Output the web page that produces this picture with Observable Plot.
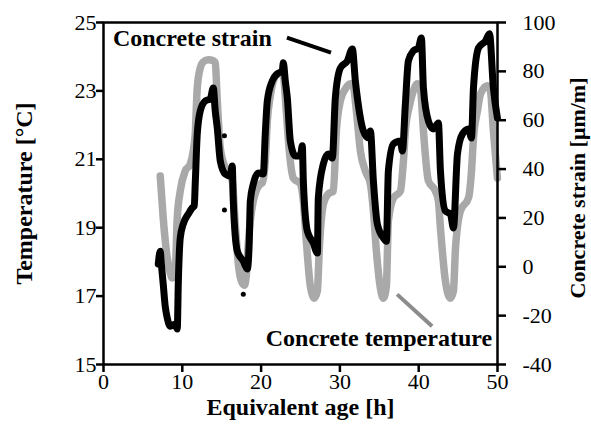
<!DOCTYPE html>
<html><head><meta charset="utf-8">
<script src="https://cdn.jsdelivr.net/npm/d3@7"></script>
<script src="https://cdn.jsdelivr.net/npm/@observablehq/plot@0.6"></script>
<style>body{margin:0;background:#fff}</style>
</head><body><div id="chart"></div>
<script>
// Concrete temperature (°C) vs equivalent age (h)
const tempHours = [7.20, 7.58, 8.09, 8.47, 8.72, 9.10, 9.36, 9.74, 10.37, 11.01, 11.39, 11.64, 11.90, 12.28, 12.66, 13.30, 13.93, 14.18, 14.44, 14.82, 15.45, 16.34, 16.72, 17.11, 17.49, 17.87, 18.12, 18.37, 19.01, 19.90, 20.15, 20.53, 20.79, 21.17, 21.55, 22.18, 22.82, 23.19, 23.58, 24.09, 24.98, 25.36, 25.74, 26.25, 26.75, 27.14, 27.39, 27.90, 28.53, 29.17, 29.55, 30.06, 30.69, 31.33, 31.71, 32.09, 32.60, 33.23, 33.87, 34.25, 34.63, 35.14, 35.52, 35.90, 36.15, 36.79, 37.68, 38.06, 38.31, 38.82, 39.20, 39.84, 40.22, 40.60, 41.23, 42.12, 42.50, 42.76, 43.39, 44.03, 44.41, 44.67, 45.30, 46.32, 46.70, 46.95, 47.46, 47.84, 48.72, 49.10, 49.48, 49.99];
const temperature = [20.51, 19.28, 18.11, 17.67, 17.53, 17.73, 19.28, 20.07, 20.66, 20.86, 21.24, 21.74, 23.09, 23.67, 23.85, 23.91, 23.88, 23.82, 22.71, 21.33, 20.75, 20.37, 19.11, 17.94, 17.44, 17.32, 17.59, 18.52, 19.78, 20.28, 20.31, 20.95, 22.12, 22.85, 23.29, 23.50, 23.44, 22.42, 21.24, 20.45, 20.28, 19.78, 18.61, 17.29, 16.94, 17.15, 18.40, 19.69, 19.99, 20.07, 21.83, 22.71, 23.06, 23.21, 23.12, 22.42, 21.24, 20.66, 20.28, 19.49, 18.32, 17.23, 16.94, 17.29, 19.19, 19.87, 20.07, 20.95, 21.83, 22.56, 22.91, 23.21, 23.06, 21.83, 20.37, 20.07, 19.78, 18.99, 17.44, 16.94, 17.15, 18.40, 19.49, 19.87, 20.66, 21.62, 22.42, 22.91, 23.15, 23.00, 21.83, 20.45];

// Concrete strain (µm/m) vs equivalent age (h)
const strainHours = [6.95, 7.20, 7.33, 7.58, 7.83, 8.09, 8.47, 9.10, 9.36, 9.49, 9.74, 10.12, 10.76, 11.26, 11.52, 11.64, 11.90, 12.28, 12.91, 13.55, 13.93, 14.18, 14.44, 14.82, 15.45, 16.08, 16.34, 16.47, 16.98, 17.74, 18.25, 18.50, 18.63, 19.01, 19.64, 20.28, 20.53, 20.79, 21.42, 22.06, 22.69, 22.82, 23.07, 23.33, 23.71, 24.34, 24.98, 25.23, 25.36, 25.87, 26.63, 27.14, 27.26, 27.90, 28.53, 29.04, 29.42, 30.06, 30.95, 31.58, 31.96, 32.22, 32.98, 33.61, 33.87, 34.25, 34.75, 35.52, 35.90, 36.15, 36.79, 37.68, 37.93, 38.31, 38.69, 39.33, 39.96, 40.34, 40.60, 41.23, 41.87, 42.50, 42.76, 43.39, 44.03, 44.41, 44.92, 45.56, 46.32, 46.70, 46.95, 47.59, 48.48, 48.98, 49.48, 49.99];
const strain = [1.1, 6.4, 1.5, -7.1, -16.1, -21.0, -24.3, -23.5, -25.5, -7.1, 11.8, 17.5, 21.6, 24.1, 24.9, 33.9, 54.4, 63.8, 67.9, 68.7, 73.2, 63.8, 56.8, 43.3, 38.0, 37.2, 41.3, 26.9, 6.4, 2.3, -0.9, 10.5, 26.9, 33.9, 38.4, 38.0, 54.4, 67.9, 76.1, 79.0, 80.2, 83.5, 76.1, 69.1, 51.5, 45.4, 45.4, 49.5, 35.1, 14.6, 9.7, 5.6, 28.2, 42.1, 46.2, 44.5, 69.1, 81.4, 84.3, 89.2, 76.1, 69.1, 55.6, 52.7, 55.6, 35.1, 17.5, 11.8, 10.5, 39.2, 50.3, 51.5, 47.4, 66.7, 84.3, 88.4, 89.6, 93.7, 73.2, 59.7, 56.4, 58.9, 39.2, 22.8, 21.6, 15.9, 46.2, 54.4, 56.4, 52.7, 73.2, 89.6, 92.5, 95.4, 73.2, 60.9];

// isolated strain readings
const strayHours = [15.35, 15.35, 17.74];
const strayStrain = [53.6, 23.2, -11.2];

const xTicks = [0, 10, 20, 30, 40, 50];
const tempTicks = [15, 17, 19, 21, 23, 25];
const strainTicks = [-40, -20, 0, 20, 40, 60, 80, 100];
const tempDomain = [15, 25];
const strainDomain = [-40, 100];

// map the strain axis onto the temperature axis (shared vertical extent)
const toTemp = s => tempDomain[0] + (s - strainDomain[0]) * (tempDomain[1] - tempDomain[0]) / (strainDomain[1] - strainDomain[0]);
const toStrain = t => strainDomain[0] + (t - tempDomain[0]) * (strainDomain[1] - strainDomain[0]) / (tempDomain[1] - tempDomain[0]);

const tempData = tempHours.map((h, i) => ({h, t: temperature[i]}));
const strainData = strainHours.map((h, i) => ({h, s: strain[i]}));
const strayData = strayHours.map((h, i) => ({h, s: strayStrain[i]}));

const serif = "'Liberation Serif', 'Times New Roman', serif";

const chart = Plot.plot({
  width: 591,
  height: 439,
  marginLeft: 103,
  marginRight: 94,
  marginTop: 22,
  marginBottom: 75,
  style: {fontFamily: serif, fontSize: "22px", color: "black", background: "white", overflow: "visible"},
  x: {domain: [0, 50]},
  y: {domain: tempDomain},
  marks: [
    Plot.line(tempData, {x: "h", y: "t", curve: "monotone-x", stroke: "#a9a9a9", strokeWidth: 7.5, strokeLinejoin: "round", strokeLinecap: "round"}),
    Plot.line(strainData, {x: "h", y: d => toTemp(d.s), curve: "monotone-x", stroke: "black", strokeWidth: 7, strokeLinejoin: "round", strokeLinecap: "round"}),
    Plot.dot(strayData, {x: "h", y: d => toTemp(d.s), r: 2.5, fill: "black"}),
    Plot.frame({stroke: "black", strokeWidth: 2.5}),
    Plot.axisX(xTicks, {tickSize: 8, tickPadding: 1, strokeWidth: 2.5, label: null, fontSize: 22}),
    Plot.axisY(tempTicks, {anchor: "left", tickSize: 7, tickPadding: 0, strokeWidth: 2.5, label: null, fontSize: 22}),
    Plot.axisY(strainTicks.map(toTemp), {anchor: "right", tickSize: 8, tickPadding: 17, strokeWidth: 2.5, label: null, fontSize: 22,
      tickFormat: d => String(Math.round(toStrain(d)))}),
    Plot.text(["Equivalent age [h]"], {frameAnchor: "bottom", lineAnchor: "middle", textAnchor: "middle", dy: 43, fontSize: 24, fontWeight: "bold"}),
    Plot.text(["Temperature [°C]"], {frameAnchor: "left", lineAnchor: "middle", textAnchor: "middle", dx: -79, rotate: -90, fontSize: 24, fontWeight: "bold"}),
    Plot.text(["Concrete strain [μm/m]"], {frameAnchor: "right", lineAnchor: "middle", textAnchor: "middle", dx: 80, dy: -5.5, rotate: -90, fontSize: 22, fontWeight: "bold"}),
    // annotations
    Plot.text(["Concrete strain"], {x: [1.19], y: [24.54], textAnchor: "start", fontSize: 24, fontWeight: "bold"}),
    Plot.link([0], {x1: [23.28], y1: [24.56], x2: [28.87], y2: [24.12], stroke: "black", strokeWidth: 4}),
    Plot.text(["Concrete temperature"], {x: [49.32], y: [15.76], textAnchor: "end", fontSize: 24, fontWeight: "bold"}),
    Plot.link([0], {x1: [37.26], y1: [17.05], x2: [41.70], y2: [16.12], stroke: "#8c8c8c", strokeWidth: 4})
  ]
});
document.getElementById("chart").appendChild(chart);
</script>
</body></html>
